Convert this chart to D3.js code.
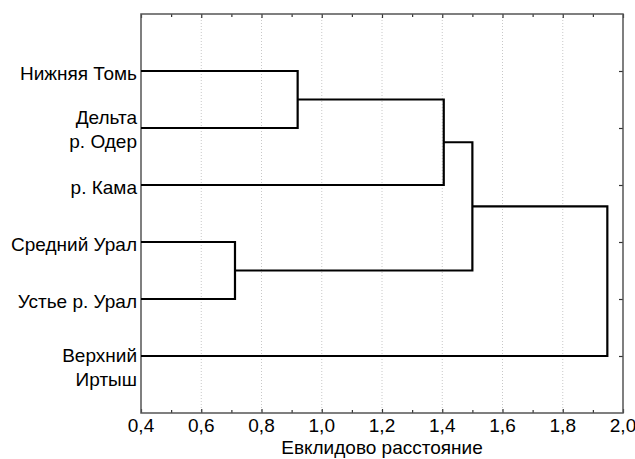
<!DOCTYPE html>
<html>
<head>
<meta charset="utf-8">
<script src="https://cdn.jsdelivr.net/npm/d3@7/dist/d3.min.js"></script>
<style>
  html, body { margin: 0; padding: 0; background: #fff; }
  svg { display: block; font-family: "Liberation Sans", Arial, sans-serif; }
</style>
</head>
<body>
<svg id="chart" width="635" height="459"></svg>
<script>
// leaves, top to bottom
const leafNames = ["Нижняя Томь", "Дельта р. Одер", "р. Кама", "Средний Урал", "Устье р. Урал", "Верхний Иртыш"];
const leafLabelLines = [["Нижняя Томь"], ["Дельта", "р. Одер"], ["р. Кама"], ["Средний Урал"], ["Устье р. Урал"], ["Верхний", "Иртыш"]];

// joins: children are leaf indexes or "m<k>" for earlier joins
const mergeLeft = [0, "m0", 3, "m1", "m3"];
const mergeRight = [1, 2, 4, "m2", 5];
const mergeHeight = [0.92, 1.405, 0.712, 1.50, 1.948];

const xTickValues = [0.4, 0.6, 0.8, 1.0, 1.2, 1.4, 1.6, 1.8, 2.0];
const xMinorTickValues = [0.5, 0.7, 0.9, 1.1, 1.3, 1.5, 1.7, 1.9];
const xTitle = "Евклидово расстояние";

const width = 635, height = 459;
const plot = { left: 141, right: 623, top: 14, bottom: 413 };
const fontSize = 19;

const svg = d3.select("#chart");

const x = d3.scaleLinear().domain([0.4, 2.0]).range([plot.left, plot.right]);
const y = d3.scalePoint().domain(leafNames).range([plot.top, plot.bottom]).padding(1);

// grid
svg.append("g")
  .selectAll("line")
  .data(xTickValues.slice(1, -1))
  .join("line")
  .attr("x1", (d) => x(d)).attr("x2", (d) => x(d))
  .attr("y1", plot.top).attr("y2", plot.bottom)
  .attr("stroke", "#c8c8c8")
  .attr("stroke-width", 1)
  .attr("stroke-dasharray", "1,2");

// axes (ticks pointing inward)
const bottomAxis = d3.axisTop(x).tickValues(xTickValues).tickSize(4).tickFormat("");
const bottomMinor = d3.axisTop(x).tickValues(xMinorTickValues).tickSize(3).tickFormat("");
const topAxis = d3.axisBottom(x).tickValues(xTickValues).tickSize(4).tickFormat("");
const topMinor = d3.axisBottom(x).tickValues(xMinorTickValues).tickSize(3).tickFormat("");
const rightAxis = d3.axisLeft(y).tickSize(4).tickFormat("");

function styleAxis(g) {
  g.select(".domain").remove();
  g.selectAll(".tick line").attr("stroke", "#333").attr("stroke-width", 1.2);
}

svg.append("g").attr("transform", `translate(0,${plot.bottom})`).call(bottomAxis).call(styleAxis);
svg.append("g").attr("transform", `translate(0,${plot.bottom})`).call(bottomMinor).call(styleAxis);
svg.append("g").attr("transform", `translate(0,${plot.top})`).call(topAxis).call(styleAxis);
svg.append("g").attr("transform", `translate(0,${plot.top})`).call(topMinor).call(styleAxis);
svg.append("g").attr("transform", `translate(${plot.right},0)`).call(rightAxis).call(styleAxis);

// frame
svg.append("rect")
  .attr("x", plot.left).attr("y", plot.top)
  .attr("width", plot.right - plot.left).attr("height", plot.bottom - plot.top)
  .attr("fill", "none").attr("stroke", "#555").attr("stroke-width", 1.5);

// tick labels
svg.append("g")
  .selectAll("text")
  .data(xTickValues)
  .join("text")
  .attr("x", (d) => x(d))
  .attr("y", 432)
  .attr("text-anchor", "middle")
  .attr("font-size", fontSize)
  .attr("fill", "#000")
  .text((d) => d3.format(".1f")(d).replace(".", ","));

svg.append("text")
  .attr("x", x(1.2))
  .attr("y", 454)
  .attr("text-anchor", "middle")
  .attr("font-size", fontSize)
  .attr("fill", "#000")
  .text(xTitle);

// dendrogram
const nodes = {};
leafNames.forEach((name, i) => { nodes[i] = { y: y(name), h: 0.4 }; });
const segments = [];
mergeHeight.forEach((h, k) => {
  const a = nodes[mergeLeft[k]];
  const b = nodes[mergeRight[k]];
  segments.push([[x(a.h), a.y], [x(h), a.y], [x(h), b.y], [x(b.h), b.y]]);
  nodes["m" + k] = { y: (a.y + b.y) / 2, h };
});

svg.append("g")
  .selectAll("path")
  .data(segments)
  .join("path")
  .attr("d", d3.line())
  .attr("fill", "none")
  .attr("stroke", "#000")
  .attr("stroke-width", 2.2)
  .attr("stroke-linejoin", "miter");

// leaf labels
const labelX = plot.left - 4;
const labels = svg.append("g");
leafNames.forEach((name, i) => {
  const lines = leafLabelLines[i];
  const cy = y(name);
  let firstBaseline;
  if (lines.length === 1) firstBaseline = cy + 8.5;
  else if (i === leafNames.length - 1) firstBaseline = cy + 6;
  else firstBaseline = cy - 4;
  lines.forEach((line, j) => {
    labels.append("text")
      .attr("x", labelX)
      .attr("y", firstBaseline + j * 24)
      .attr("text-anchor", "end")
      .attr("font-size", fontSize)
      .attr("fill", "#000")
      .text(line);
  });
});
</script>
</body>
</html>
